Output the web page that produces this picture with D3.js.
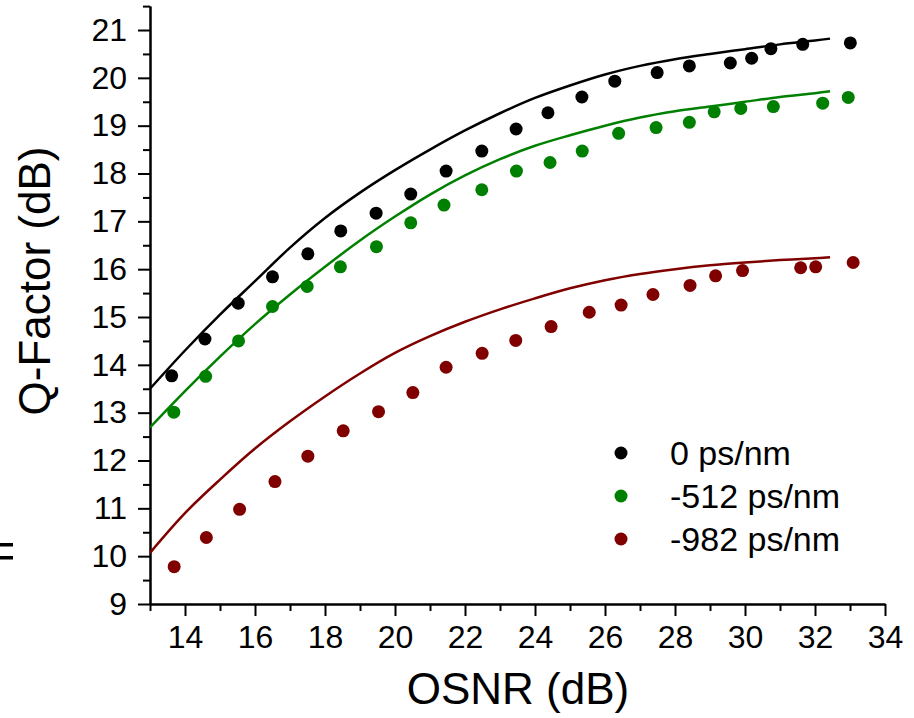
<!DOCTYPE html>
<html>
<head>
<meta charset="utf-8">
<script src="https://cdn.jsdelivr.net/npm/d3@7"></script>
<style>
  body { margin: 0; background: #fff; }
  svg { display: block; font-family: "Liberation Sans", Arial, sans-serif; }
</style>
</head>
<body>
<script>
// measured points, OSNR (dB) vs Q-factor (dB)
var osnr0   = [13.62,14.57,15.52,16.5,17.51,18.45,19.46,20.45,21.46,22.48,23.46,24.37,25.34,26.28,27.49,28.41,29.58,30.19,30.74,31.65,33.01];
var q0      = [13.77,14.54,15.29,15.84,16.32,16.80,17.17,17.57,18.05,18.47,18.93,19.27,19.60,19.93,20.11,20.25,20.31,20.41,20.61,20.70,20.73];
var osnr512 = [13.68,14.59,15.53,16.5,17.49,18.44,19.47,20.45,21.4,22.48,23.47,24.43,25.35,26.39,27.46,28.41,29.12,29.88,30.81,32.22,32.95];
var q512    = [13.01,13.76,14.50,15.22,15.64,16.05,16.47,16.97,17.34,17.66,18.05,18.23,18.47,18.84,18.96,19.07,19.29,19.36,19.40,19.47,19.59];
var osnr982 = [13.69,14.61,15.56,16.57,17.51,18.52,19.53,20.51,21.46,22.49,23.45,24.46,25.55,26.46,27.37,28.43,29.16,29.93,31.59,32.02,33.09];
var q982    = [9.78,10.39,10.98,11.56,12.09,12.62,13.02,13.42,13.95,14.24,14.51,14.80,15.10,15.25,15.47,15.66,15.86,15.97,16.03,16.05,16.14];

// fitted curves
var fitOsnr = [13,14,15,16,17,18,19,20,21,22,23,24,25,26,27,28,29,30,31,32,32.43];
var fit0    = [13.5,14.3,15.05,15.75,16.45,17.07,17.6,18.07,18.5,18.9,19.26,19.58,19.84,20.07,20.25,20.39,20.5,20.6,20.7,20.78,20.82];
var fit512  = [12.69,13.45,14.17,14.85,15.47,16.05,16.6,17.1,17.56,17.96,18.3,18.58,18.8,19.0,19.17,19.3,19.4,19.5,19.6,19.68,19.72];
var fit982  = [10.07,10.9,11.6,12.25,12.82,13.34,13.82,14.25,14.6,14.9,15.16,15.39,15.6,15.77,15.9,16.0,16.08,16.14,16.19,16.23,16.25];

var seriesNames = ["0 ps/nm", "-512 ps/nm", "-982 ps/nm"];
var colors = ["#000000", "#008000", "#800000"];

var xMajor = [14,16,18,20,22,24,26,28,30,32,34];
var xMinor = [13,15,17,19,21,23,25,27,29,31,33];
var yMajor = [9,10,11,12,13,14,15,16,17,18,19,20,21];
var yMinor = [9.5,10.5,11.5,12.5,13.5,14.5,15.5,16.5,17.5,18.5,19.5,20.5,21.5];

var width = 914, height = 718;

var svg = d3.select("body").append("svg")
    .attr("width", width)
    .attr("height", height);

var x = d3.scaleLinear().domain([13, 34]).range([150, 885]);
var y = d3.scaleLinear().domain([9, 21.5]).range([604, 6.1]);

var series = [
    {pts: osnr0.map((v,i) => [v, q0[i]]),     fit: fitOsnr.map((v,i) => [v, fit0[i]])},
    {pts: osnr512.map((v,i) => [v, q512[i]]), fit: fitOsnr.map((v,i) => [v, fit512[i]])},
    {pts: osnr982.map((v,i) => [v, q982[i]]), fit: fitOsnr.map((v,i) => [v, fit982[i]])}
];

// axes
function styleAxis(g) {
    g.select(".domain").attr("stroke-width", 2);
    g.selectAll(".tick line").attr("stroke-width", 2);
    g.selectAll("text").attr("font-size", 32).attr("fill", "#000")
        .attr("font-family", "Liberation Sans, Arial, sans-serif");
}

svg.append("g")
    .attr("transform", "translate(0,604)")
    .call(d3.axisBottom(x).tickValues(xMinor).tickSize(7).tickSizeOuter(0).tickFormat(""))
    .call(styleAxis);
svg.append("g")
    .attr("transform", "translate(0,604)")
    .call(d3.axisBottom(x).tickValues(xMajor).tickSize(12).tickSizeOuter(0).tickPadding(9).tickFormat(d3.format("d")))
    .call(styleAxis);

svg.append("g")
    .attr("transform", "translate(150,0)")
    .call(d3.axisLeft(y).tickValues(yMinor).tickSize(7).tickSizeOuter(0).tickFormat(""))
    .call(styleAxis);
svg.append("g")
    .attr("transform", "translate(150,0)")
    .call(d3.axisLeft(y).tickValues(yMajor).tickSize(12).tickSizeOuter(0).tickPadding(11).tickFormat(d3.format("d")))
    .call(styleAxis);

// axis titles
svg.append("text")
    .attr("x", 518).attr("y", 704)
    .attr("text-anchor", "middle")
    .attr("font-size", 44)
    .text("OSNR (dB)");

svg.append("text")
    .attr("transform", "translate(50,281) rotate(-90)")
    .attr("text-anchor", "middle")
    .attr("font-size", 44)
    .text("Q-Factor (dB)");

// stray marks at the left edge
svg.append("rect").attr("x", 0).attr("y", 543).attr("width", 13).attr("height", 3.5).attr("fill", "#000");
svg.append("rect").attr("x", 0).attr("y", 556).attr("width", 13).attr("height", 3.5).attr("fill", "#000");

// fit lines
var line = d3.line()
    .x(d => x(d[0]))
    .y(d => y(d[1]))
    .curve(d3.curveCatmullRom);

series.forEach(function(s, i) {
    svg.append("path")
        .datum(s.fit)
        .attr("d", line)
        .attr("fill", "none")
        .attr("stroke", colors[i])
        .attr("stroke-width", 2.5);
});

// measured dots
series.forEach(function(s, i) {
    svg.append("g").selectAll("circle")
        .data(s.pts)
        .enter()
        .append("circle")
        .attr("cx", d => x(d[0]))
        .attr("cy", d => y(d[1]))
        .attr("r", 6.5)
        .attr("fill", colors[i]);
});

// legend
var legend = svg.append("g").attr("transform", "translate(621,453)");
seriesNames.forEach(function(name, i) {
    legend.append("circle")
        .attr("cx", 0).attr("cy", i * 43)
        .attr("r", 6.5)
        .attr("fill", colors[i]);
    legend.append("text")
        .attr("x", 49).attr("y", i * 43 + 12)
        .attr("font-size", 34)
        .text(name);
});
</script>
</body>
</html>
